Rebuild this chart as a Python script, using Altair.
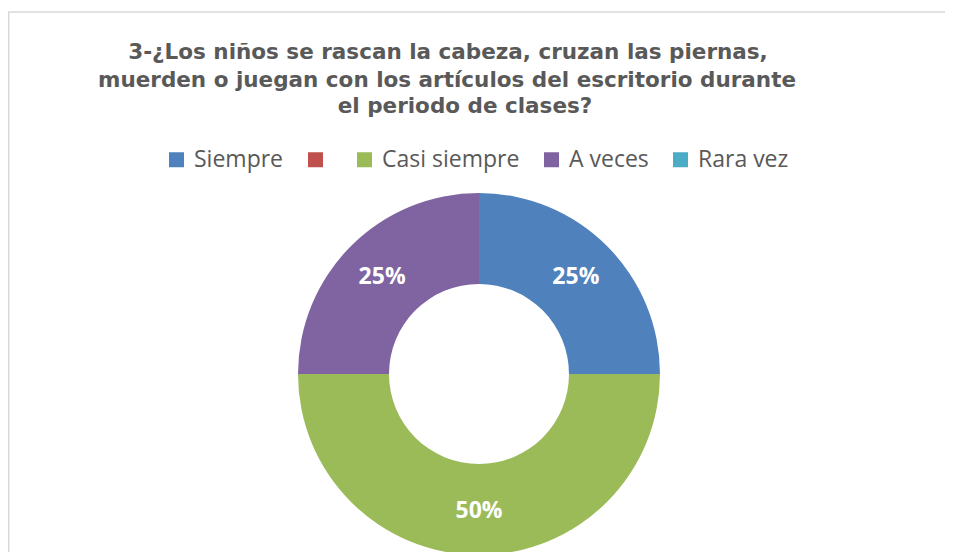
import altair as alt
import pandas as pd

categorias = ["Siempre", " ", "Casi siempre", "A veces", "Rara vez"]
valores = [25, 0, 50, 25, 0]
colores = ["#4F81BD", "#C0504D", "#9BBB59", "#8064A2", "#4BACC6"]
titulo = [
    "3-¿Los niños se rascan la cabeza, cruzan las piernas,",
    "muerden o juegan con los artículos del escritorio durante",
    "el periodo de clases?",
]

df = pd.DataFrame({"categoria": categorias, "valor": valores,
                   "orden": list(range(len(categorias)))})
df["etiqueta"] = [f"{v}%" for v in valores]
uno = pd.DataFrame({"k": [0]})

W, H = 937, 544
CX, CY = 471, 366
FONT = "Open Sans"
TFONT = "DejaVu Sans"

color = alt.Color(
    "categoria:N",
    scale=alt.Scale(domain=categorias, range=colores),
    legend=alt.Legend(
        orient="none", legendX=157, legendY=140, direction="horizontal", title=None,
        symbolType="square", symbolSize=225, symbolStrokeWidth=0, symbolOpacity=1,
        labelFont=FONT, labelFontSize=23, labelColor="#595959", labelOffset=6,
        columnPadding=20, padding=0, labelLimit=400,
    ),
)

base = alt.Chart(df)
arcs = base.mark_arc(outerRadius=181, innerRadius=90).encode(
    theta=alt.Theta("valor:Q", stack=True),
    color=color,
    order=alt.Order("orden:Q"),
    x=alt.value(CX), y=alt.value(CY),
)
labels = base.transform_filter("datum.valor > 0").mark_text(
    radius=137, font=FONT, fontSize=23, fontWeight="bold", color="white"
).encode(
    theta=alt.Theta("valor:Q", stack=True),
    order=alt.Order("orden:Q"),
    text="etiqueta:N",
    x=alt.value(CX), y=alt.value(CY),
)

borde_sup = alt.Chart(uno).mark_rule(color="#D9D9D9", strokeWidth=1.5).encode(
    x=alt.value(0), x2=alt.value(W), y=alt.value(4))
borde_izq = alt.Chart(uno).mark_rule(color="#D9D9D9", strokeWidth=1.5).encode(
    x=alt.value(0.75), y=alt.value(4), y2=alt.value(H))

xs = [440, 439, 457]
ys = [51, 79, 105]
title_layers = [
    alt.Chart(uno).mark_text(align="center", baseline="alphabetic", font=TFONT,
                             fontSize=21.5, fontWeight="bold", color="#595959").encode(
        x=alt.value(xs[i]), y=alt.value(ys[i]), text=alt.value(titulo[i]))
    for i in range(len(titulo))
]

chart = alt.layer(borde_sup, borde_izq, arcs, labels, *title_layers).properties(
    width=W, height=H, autosize=alt.AutoSizeParams(type="none"), padding=0
).configure_view(stroke=None)

chart.save("out.html", embed_options={"renderer": "svg", "actions": False})
